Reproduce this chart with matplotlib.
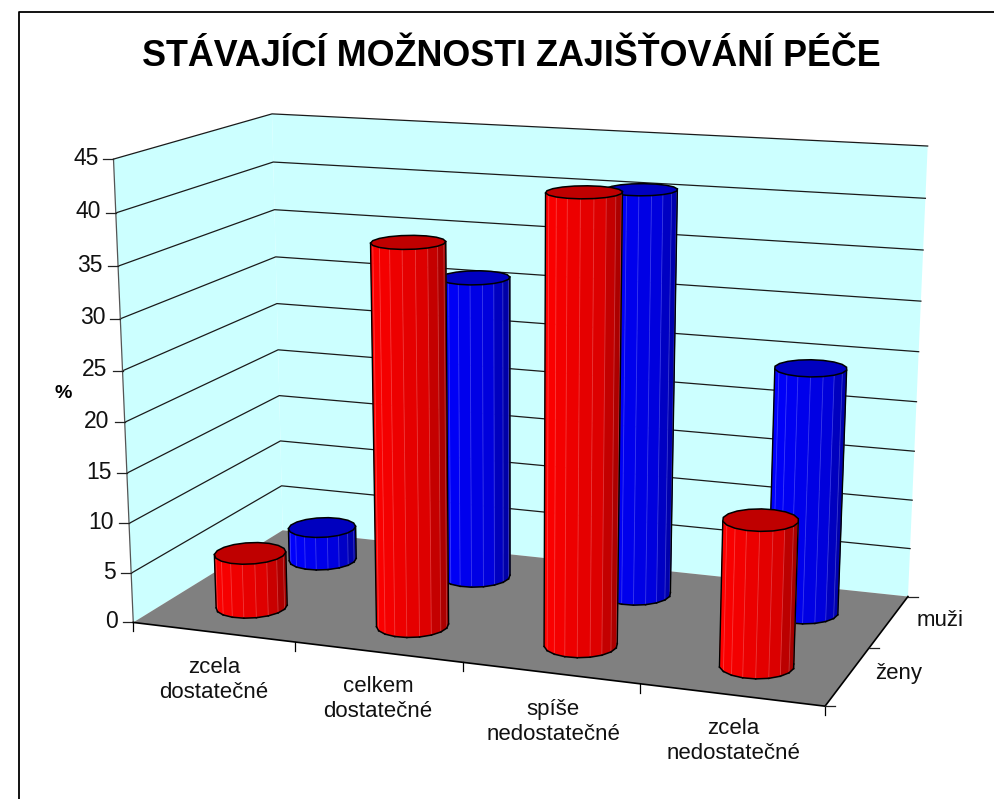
import numpy as np
import matplotlib
matplotlib.use('Agg')
import matplotlib.pyplot as plt
from matplotlib.patches import Polygon

categories = ['zcela\ndostatečné', 'celkem\ndostatečné', 'spíše\nnedostatečné', 'zcela\nnedostatečné']
series_names = ['ženy', 'muži']
zeny = [5.5, 37.4, 43, 14]
muzi = [3.5, 31, 40.7, 24.5]
z_ticks = [0, 5, 10, 15, 20, 25, 30, 35, 40, 45]
title = 'STÁVAJÍCÍ MOŽNOSTI ZAJIŠŤOVÁNÍ PÉČE'

plt.rcParams['font.family'] = ['Liberation Sans', 'DejaVu Sans']

# world (category, series, value) -> pixels, calibrated on the plot box corners
world = [(0, 0, 45), (0, 0, 0), (0, 2, 45), (0, 2, 0), (4, 2, 45), (4, 2, 0), (4, 0, 0)]
pixel = [(113.5, 159), (133.3, 622.7), (272, 114), (282.7, 530), (927.7, 146), (908, 596.7), (825, 706)]


def fit_projection():
    A = []
    b = []
    for (x, y, z), (u, v) in zip(world, pixel):
        A.append([x, y, z, 1, 0, 0, 0, 0, -u*x, -u*y, -u*z])
        A.append([0, 0, 0, 0, x, y, z, 1, -v*x, -v*y, -v*z])
        b += [u, v]
    p = np.linalg.lstsq(np.array(A, float), np.array(b, float), rcond=None)[0]
    return np.append(p, 1).reshape(3, 4)


P = fit_projection()


def proj(x, y, z):
    h = P @ np.array([x, y, z, 1.0])
    return h[0] / h[2], h[1] / h[2]


def mix(c1, c2, t):
    return tuple(np.array(c1) * (1 - t) + np.array(c2) * t)


def cylinder(ax, cx, cy, val, base, zo):
    # base is the pure colour, 18 flat sides like the old 3d charts
    n = 18
    rx, ry = 0.2, 0.22
    ang = np.linspace(0, 2 * np.pi, n + 1) + 0.09
    bot = [proj(cx + rx*np.cos(a), cy + ry*np.sin(a), 0) for a in ang]
    top = [proj(cx + rx*np.cos(a), cy + ry*np.sin(a), val) for a in ang]
    xs = [p[0] for p in top + bot]
    xmin, xmax = min(xs), max(xs)
    vis = []
    for i in range(n):
        q = [bot[i], bot[i+1], top[i+1], top[i]]
        area = 0
        for k in range(4):
            area += q[k][0]*q[(k+1) % 4][1] - q[(k+1) % 4][0]*q[k][1]
        if area < 0:
            vis.append(i)
    for i in vis:
        q = [bot[i], bot[i+1], top[i+1], top[i]]
        t = (np.mean([p[0] for p in q]) - xmin) / (xmax - xmin)
        if t < 0.72:
            col = mix(base, np.array(base) * 0.86, t / 0.72)
        else:
            col = mix(np.array(base) * 0.86, np.array(base) * 0.6, (t - 0.72) / 0.28)
        ax.add_patch(Polygon(q, closed=True, fc=col, ec=col, lw=0.3, zorder=zo))
        ax.plot([q[1][0], q[2][0]], [q[1][1], q[2][1]], color=mix(col, (1, 1, 1), 0.22), lw=0.6, zorder=zo + 0.1)
    for i in vis:
        ax.plot([bot[i][0], bot[i+1][0]], [bot[i][1], bot[i+1][1]], color='black', lw=1.1, zorder=zo + 0.2)
    # silhouette sides
    ends = [j for j in vis if (j - 1) % n not in vis] + [j + 1 for j in vis if (j + 1) % n not in vis]
    for j in ends:
        ax.plot([bot[j][0], top[j][0]], [bot[j][1], top[j][1]], color='black', lw=1.0, zorder=zo + 0.2)
    topcol = np.array(base) * 0.75
    ax.add_patch(Polygon(top, closed=True, fc=topcol, ec='black', lw=1.1, zorder=zo + 0.3))


fig = plt.figure(figsize=(9.95, 7.99), dpi=100)
ax = fig.add_axes([0, 0, 1, 1])
ax.set_xlim(0, 995)
ax.set_ylim(799, 0)
ax.axis('off')

# chart border
ax.plot([19, 19, 995], [799, 11.5, 11.5], color='black', lw=1.3, zorder=1)

wall = '#CCFFFF'
ax.add_patch(Polygon([proj(0, 0, 0), proj(0, 0, 45), proj(0, 2, 45), proj(0, 2, 0)], fc=wall, ec='none', zorder=1))
ax.add_patch(Polygon([proj(0, 2, 0), proj(0, 2, 45), proj(4, 2, 45), proj(4, 2, 0)], fc=wall, ec='none', zorder=1))
ax.add_patch(Polygon([proj(0, 0, 0), proj(4, 0, 0), proj(4, 2, 0), proj(0, 2, 0)], fc='#808080', ec='none', zorder=1.5))

for z in z_ticks:
    pts = [proj(0, 0, z), proj(0, 2, z), proj(4, 2, z)]
    if z > 0:
        ax.plot([p[0] for p in pts], [p[1] for p in pts], color='#1a1a1a', lw=0.9, zorder=1.2)
    u, v = pts[0]
    ax.plot([u - 10, u], [v, v], color='#222222', lw=0.9, zorder=2)
    ax.text(u - 15, v - 1, str(z), ha='right', va='center', fontsize=16.5, color='#111111')

a, b = proj(0, 0, 0), proj(0, 0, 45)
ax.plot([a[0], b[0]], [a[1], b[1]], color='#555555', lw=0.9, zorder=1.3)

# floor edges and ticks
a, b, c = proj(0, 0, 0), proj(4, 0, 0), proj(4, 2, 0)
ax.plot([a[0], b[0], c[0]], [a[1], b[1], c[1]], color='black', lw=1.2, zorder=2)
for i in range(5):
    u, v = proj(i, 0, 0)
    ax.plot([u, u], [v, v + 9], color='black', lw=0.9, zorder=2)
for j in range(3):
    u, v = proj(4, j, 0)
    ax.plot([u, u + 10], [v, v], color='#222222', lw=0.9, zorder=2)

# back row first, the women stand in front
for i in range(len(categories)):
    cylinder(ax, i + 0.5, 1.5, muzi[i], (0, 0, 1), 3 + i * 0.5)
for i in range(len(categories)):
    cylinder(ax, i + 0.5, 0.5, zeny[i], (1, 0, 0), 6 + i * 0.5)

cat_pos = [(214, 680), (378, 699), (553, 722), (733, 741)]
for lab, (u, v) in zip(categories, cat_pos):
    ax.text(u, v, lab, ha='center', va='center', fontsize=16, color='#111111', linespacing=1.2)
ax.text(917, 620, series_names[1], ha='left', va='center', fontsize=16, color='#111111')
ax.text(875, 674, series_names[0], ha='left', va='center', fontsize=16, color='#111111')
ax.text(63, 393, '%', ha='center', va='center', fontsize=14, fontweight='bold', color='black')
ax.text(511, 56, title, ha='center', va='center', fontsize=25.8, fontweight='bold', color='black')

fig.savefig('out.png', dpi=100)
